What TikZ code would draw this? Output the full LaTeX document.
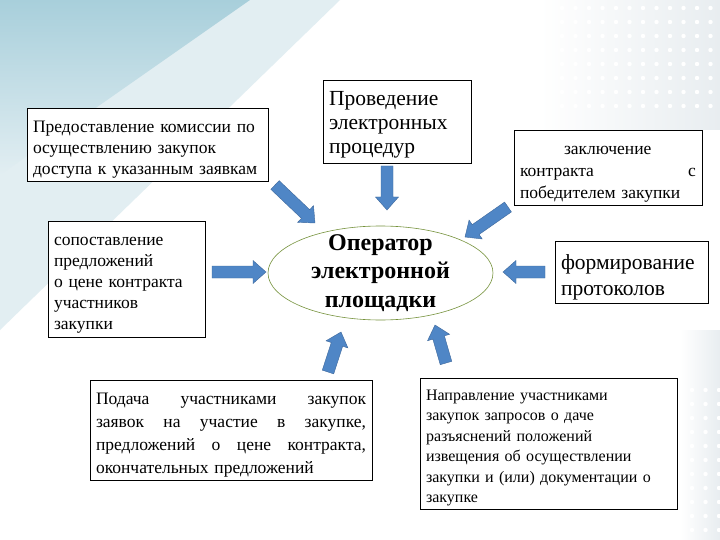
\documentclass[tikz,border=0pt]{standalone}
\usepackage{fontspec}
\setmainfont{Liberation Serif}
\usetikzlibrary{shapes.geometric}
\usetikzlibrary{calc}
\definecolor{arrowblue}{RGB}{79,134,198}
\definecolor{arrowline}{RGB}{62,104,156}
\definecolor{ovalline}{RGB}{118,146,60}
\definecolor{bgteal}{RGB}{168,207,219}
\definecolor{bglight}{RGB}{226,238,242}
\definecolor{bggray}{RGB}{232,237,240}
\tikzset{
    box/.style={
        draw=black,
        fill=white,
        semithick,
        inner xsep=6pt,
        inner ysep=3pt,
        align=left,
        execute at begin node={\rule{0pt}{#1}}},
    box/.default=1.2em,
    oval/.style={
        ellipse,
        draw=ovalline,
        fill=white,
        semithick,
        inner xsep=0pt,
        inner ysep=-12pt,
        align=center,
        font=\fontsize{24}{28.5}\selectfont\bfseries,
        execute at begin node={\rule{0pt}{0.92em}}},
    bigarrow/.style={
        draw=arrowline,
        fill=arrowblue,
        thin,
        line join=miter}}
% block arrow from #1 to #2
\newcommand{\bluearrow}[2]{%
    \path[bigarrow] let \p1=($(#2)-(#1)$), \n1={atan2(\y1,\x1)}, \n2={veclen(\x1,\y1)} in
        [shift={(#1)}, rotate=\n1]
        (0pt,-6pt) -- ({\n2-13pt},-6pt) -- ({\n2-13pt},-11.5pt) -- ({\n2+0pt},0pt)
        -- ({\n2-13pt},11.5pt) -- ({\n2-13pt},6pt) -- (0pt,6pt) -- cycle;}

\begin{document}
\begin{tikzpicture}[x=1pt, y=-1pt]
        \useasboundingbox (0,0) rectangle (720,540);
        % background
        \fill[white] (0,0) rectangle (720,540);
        \fill[bglight] (0,0) -- (340,0) -- (0,330) -- cycle;
        \shade[top color=bgteal, bottom color=bglight] (0,0) -- (250,0) -- (0,175) -- cycle;
        \shade[left color=white, right color=bggray] (540,0) rectangle (720,130);
        \shade[left color=white, right color=bggray] (680,330) rectangle (720,540);
        \foreach \i in {0,...,11} {
            \foreach \j in {0,...,7} {
                \fill[white] (562+13.5*\i, 8+14*\j) circle (2.2);
            }
        }
        \foreach \i in {0,...,2} {
            \foreach \j in {0,...,10} {
                \fill[white] (692+13.5*\i, 390+14*\j) circle (2.2);
            }
        }

        \node[oval, minimum width=225pt, minimum height=94pt] (op) at (380.5,273)
            {Оператор\\электронной\\площадки};

        \node[box, text width=229pt, minimum height=73pt,
            font=\fontsize{17.5}{21}\selectfont] (prov) at (147.5,144.5)
            {Предоставление комиссии по\\осуществлению закупок\\доступа к указанным заявкам};
        \node[box=0.95em, text width=136pt, minimum height=83pt,
            font=\fontsize{21.5}{24}\selectfont] (proc) at (397,121.5)
            {Проведение\\электронных\\процедур};
        \node[box, text width=176pt, minimum height=73pt,
            font=\fontsize{17.5}{22}\selectfont] (contr) at (608,167.5)
            {\hspace*{44pt}заключение\\контракта\hfill с\\победителем закупки};
        \node[box, text width=145pt, minimum height=116pt,
            font=\fontsize{17.5}{21}\selectfont] (sopost) at (126.5,279)
            {сопоставление\\предложений\\о цене контракта\\участников\\закупки};
        \node[box, text width=141pt, minimum height=58pt,
            font=\fontsize{21.5}{26}\selectfont] (protok) at (631.5,272)
            {формирование\\протоколов};
        \node[box, text width=270pt, minimum height=95pt,
            font=\fontsize{17.5}{23}\selectfont] (podacha) at (231,430.5)
            {Подача\hfill участниками\hfill закупок\\
             заявок\hfill на\hfill участие\hfill в\hfill закупке,\\
             предложений\hfill о\hfill цене\hfill контракта,\\
             окончательных предложений};
        \node[box, text width=245pt, minimum height=127pt,
            font=\fontsize{16}{20.5}\selectfont] (zapros) at (548.5,443.5)
            {Направление участниками\\закупок запросов о даче\\разъяснений положений\\извещения об осуществлении\\закупки и (или) документации о\\закупке};

        % arrow ends
        \coordinate (prov-a) at (275,185);
        \coordinate (prov-b) at (315,223);
        \coordinate (proc-a) at (387,166);
        \coordinate (proc-b) at (387,210);
        \coordinate (contr-a) at (508,207);
        \coordinate (contr-b) at (465,237);
        \coordinate (sopost-a) at (212,272);
        \coordinate (sopost-b) at (266,272);
        \coordinate (protok-a) at (545,272);
        \coordinate (protok-b) at (503,272);
        \coordinate (podacha-a) at (328,372);
        \coordinate (podacha-b) at (341,332);
        \coordinate (zapros-a) at (446,363);
        \coordinate (zapros-b) at (435,325);

        \bluearrow{prov-a}{prov-b}
        \bluearrow{proc-a}{proc-b}
        \bluearrow{contr-a}{contr-b}
        \bluearrow{sopost-a}{sopost-b}
        \bluearrow{protok-a}{protok-b}
        \bluearrow{podacha-a}{podacha-b}
        \bluearrow{zapros-a}{zapros-b}
    \end{tikzpicture}
\end{document}
